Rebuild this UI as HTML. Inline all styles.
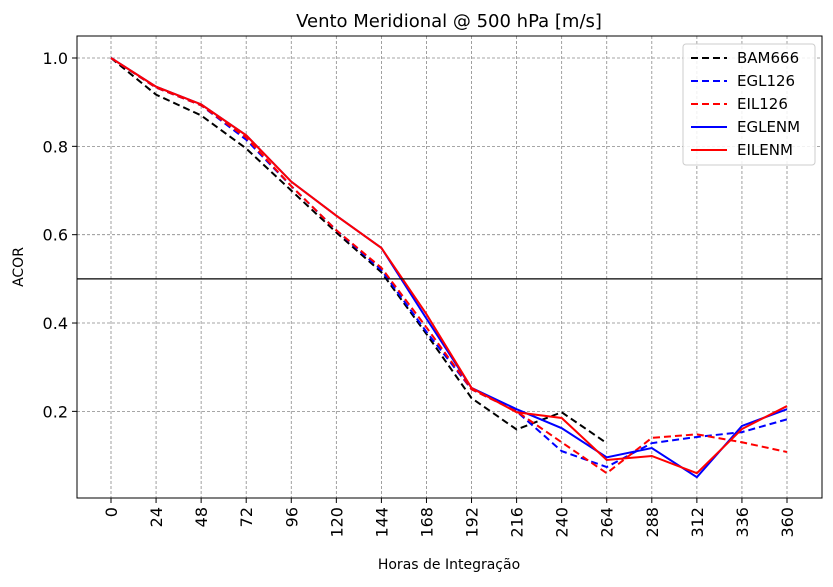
<!DOCTYPE html>
<html><head><meta charset="utf-8"><style>
body{margin:0;background:#fff;}
svg text{font-family:"DejaVu Sans","Liberation Sans",sans-serif;}
</style></head><body>
<svg id="chart" width="833" height="582" xmlns="http://www.w3.org/2000/svg">
<rect width="833" height="582" fill="#fff"/>
<g id="grid"></g><g id="series"></g><g id="axes"></g>
</svg>
<script>
const hours=[0,24,48,72,96,120,144,168,192,216,240,264,288,312,336,360];
const yTicks=[0.2,0.4,0.6,0.8,1.0];
const bam666=[1.0,0.917,0.87,0.795,0.70,0.605,0.515,0.375,0.23,0.159,0.198,0.128];
const egl126=[1.0,0.933,0.893,0.815,0.71,0.61,0.52,0.38,0.25,0.20,0.11,0.074,0.128,0.142,0.153,0.182];
const eil126=[1.0,0.933,0.893,0.82,0.71,0.61,0.525,0.39,0.25,0.20,0.13,0.06,0.14,0.148,0.13,0.108];
const eglenm=[1.0,0.935,0.895,0.825,0.72,0.643,0.57,0.41,0.253,0.205,0.162,0.096,0.117,0.051,0.167,0.205];
const eilenm=[1.0,0.935,0.895,0.825,0.72,0.643,0.57,0.42,0.253,0.198,0.185,0.09,0.099,0.06,0.16,0.212];
const refLine=0.5;
const NS='http://www.w3.org/2000/svg';
const L=77,R=822,T=36,B=498;
const x=h=>111+h*(676/360);
const y=v=>499.7-v*441.7;
function mk(tag,attrs,parent,text){const e=document.createElementNS(NS,tag);for(const k in attrs)e.setAttribute(k,attrs[k]);if(text!==undefined)e.textContent=text;parent.appendChild(e);return e;}
const grid=document.getElementById('grid'),ser=document.getElementById('series'),ax=document.getElementById('axes');
hours.forEach(h=>{
 const g=mk('line',{x1:x(h),x2:x(h),y1:T,y2:B,stroke:'#888','stroke-width':0.8,'stroke-dasharray':'3,2'},grid);
 
 
 mk('line',{x1:x(h),x2:x(h),y1:B,y2:B+5,stroke:'#000','stroke-width':1},ax);
 const t=mk('text',{x:0,y:0,'font-size':16,'text-anchor':'end',transform:`translate(${x(h)+6},${B+9}) rotate(-90)`},ax,String(h));
 
 
});
yTicks.forEach(v=>{
 const g=mk('line',{x1:L,x2:R,y1:y(v),y2:y(v),stroke:'#888','stroke-width':0.8,'stroke-dasharray':'3,2'},grid);
 
 
 mk('line',{x1:L-5,x2:L,y1:y(v),y2:y(v),stroke:'#000','stroke-width':1},ax);
 const t=mk('text',{x:L-9,y:y(v)+6,'font-size':16,'text-anchor':'end'},ax,v.toFixed(1));
 
 
});
const series=[['BAM666',bam666,'#000',true],['EGL126',egl126,'#00f',true],['EIL126',eil126,'#f00',true],['EGLENM',eglenm,'#00f',false],['EILENM',eilenm,'#f00',false]];
series.forEach(([n,d,c,dash])=>{
 const p=mk('polyline',{points:d.map((v,i)=>x(hours[i])+','+y(v)).join(' '),fill:'none',stroke:c,'stroke-width':2,'stroke-dasharray':dash?'7,4':'none'},ser);
 
 
});
const rl=mk('line',{x1:L,x2:R,y1:y(refLine),y2:y(refLine),stroke:'#000','stroke-width':1.3},ax);


const fr=mk('rect',{x:L,y:T,width:R-L,height:B-T,fill:'none',stroke:'#000','stroke-width':1},ax);


const tt=mk('text',{x:449,y:27,'font-size':18,'text-anchor':'middle'},ax,'Vento Meridional @ 500 hPa [m/s]');


const xt=mk('text',{x:449,y:569,'font-size':14,'text-anchor':'middle'},ax,'Horas de Integração');


const yt=mk('text',{x:0,y:0,'font-size':14,'text-anchor':'middle',transform:'translate(23,267) rotate(-90)'},ax,'ACOR');


const lg=mk('g',{},ax);


mk('rect',{x:683,y:44,width:132,height:121,rx:3,fill:'#fff','fill-opacity':0.85,stroke:'#ccc'},lg);
series.forEach(([n,d,c,dash],i)=>{
 const yy=58+i*23;
 mk('line',{x1:691,x2:727,y1:yy,y2:yy,stroke:c,'stroke-width':2,'stroke-dasharray':dash?'7,4':'none'},lg);
 const t=mk('text',{x:737,y:yy+5,'font-size':15},lg,n);
 
 
});
</script>
</body></html>
